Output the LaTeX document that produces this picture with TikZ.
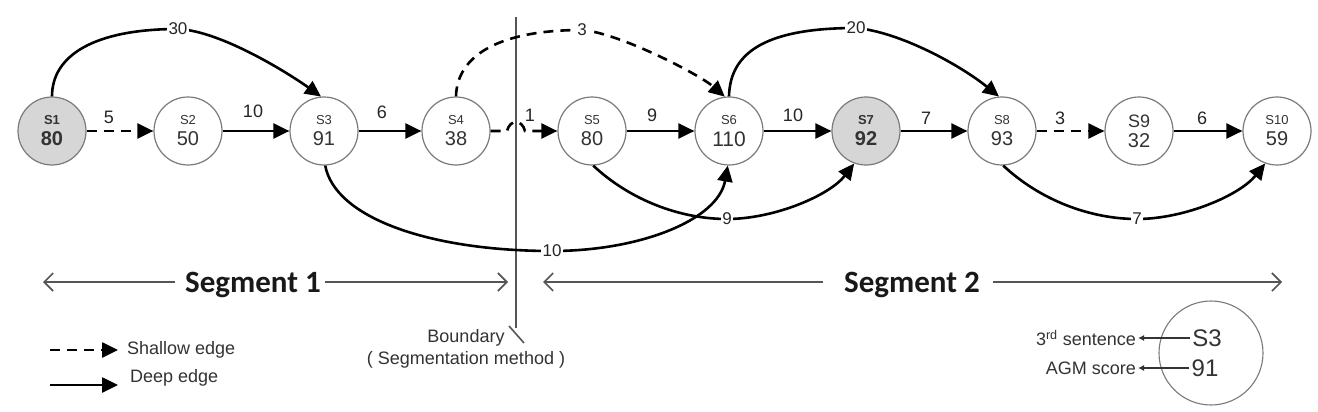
\documentclass[tikz,border=0pt]{standalone}
\usepackage{fontspec}
\setmainfont{Liberation Sans}
\newfontfamily\segfont{Carlito}
\usetikzlibrary{arrows.meta}
\definecolor{nodegray}{HTML}{D6D6D6}
\definecolor{rimgray}{HTML}{7A7A7A}
\definecolor{txtgray}{HTML}{333333}
\definecolor{linegray}{HTML}{555555}
\newcommand\fs[1]{\fontsize{#1}{#1}\selectfont}
\tikzset{
  snode/.style={circle, draw=rimgray, line width=1.2pt, minimum size=68pt, inner sep=0pt, align=center, text=txtgray},
  hinode/.style={snode, fill=nodegray},
  deepedge/.style={line width=2.6pt, -{Triangle[length=16pt,width=15pt]}},
  shallowedge/.style={deepedge, dash pattern=on 10pt off 7pt},
  elabel/.style={font=\fs{18}, text=black!85, inner sep=0pt},
  clabel/.style={font=\fs{17}, text=black!85, fill=white, inner sep=1.5pt},
  segline/.style={draw=linegray, line width=1.6pt},
  segtip/.style={-{Straight Barb[length=9pt,width=18pt]}},
  segtext/.style={font=\segfont\bfseries\fs{31}, text=black!90, inner sep=0pt, anchor=base},
  bline/.style={draw=linegray, line width=1.6pt},
  plain/.style={font=\fs{18}, text=txtgray, inner sep=0pt},
  smallarrow/.style={draw=txtgray, line width=1.3pt, -{Latex[length=6pt,width=6pt]}}
}
\begin{document}
\begin{tikzpicture}[x=1pt,y=-1pt]
\useasboundingbox[fill=white] (0,0) rectangle (1318,412);
% boundary
\coordinate (btop) at (516,17);
\coordinate (bbot) at (516,328);
\draw[bline] (btop) -- (bbot);
\coordinate (slA) at (509,326);
\coordinate (slB) at (524,343);
\draw[bline] (slA) -- (slB);
% sentence nodes
\node[hinode] (s1) at (52,131) {\fs{13}\bfseries S1\\[6pt]\fs{20}\bfseries 80};
\node[snode] (s2) at (188,131) {\fs{13}S2\\[6pt]\fs{20}50};
\node[snode] (s3) at (324,131) {\fs{13}S3\\[6pt]\fs{20}91};
\node[snode] (s4) at (456,131) {\fs{13}S4\\[6pt]\fs{20}38};
\node[snode] (s5) at (592,131) {\fs{13}S5\\[6pt]\fs{20}80};
\node[snode] (s6) at (729,131) {\fs{13}S6\\[6pt]\fs{21}110};
\node[hinode] (s7) at (866,131) {\fs{13}\bfseries S7\\[6pt]\fs{20}\bfseries 92};
\node[snode] (s8) at (1002,131) {\fs{13}S8\\[6pt]\fs{20}93};
\node[snode] (s9) at (1139,131) {\fs{18}S9\\[5pt]\fs{20}32};
\node[snode] (s10) at (1277,131) {\fs{13}S10\\[6pt]\fs{20}59};
% straight edges
\draw[shallowedge] (s1) -- (s2);
\draw[deepedge] (s2) -- (s3);
\draw[deepedge] (s3) -- (s4);
\draw[shallowedge] (s4) -- (507,131) .. controls (510,119) and (522,119) .. (525,131) -- (s5);
\draw[deepedge] (s5) -- (s6);
\draw[deepedge] (s6) -- (s7);
\draw[deepedge] (s7) -- (s8);
\draw[shallowedge] (s8) -- (s9);
\draw[deepedge] (s9) -- (s10);
\node[elabel] (e12) at (109,117) {5};
\node[elabel] (e23) at (253,111) {10};
\node[elabel] (e34) at (382,112) {6};
\node[elabel] (e45) at (530,115) {1};
\node[elabel] (e56) at (652,115) {9};
\node[elabel] (e67) at (793,115) {10};
\node[elabel] (e78) at (926,118) {7};
\node[elabel] (e89) at (1060,118) {3};
\node[elabel] (e910) at (1202,118) {6};
% upper curves
\draw[deepedge] (s1.north) .. controls (52,55) and (95,29) .. (178,29) node[clabel] (c30) {30}
  .. controls (222,31) and (291,75) .. (s3.95);
\draw[shallowedge] (s4.north) .. controls (457,55) and (500,30) .. (582,30) node[clabel] (c3) {3}
  .. controls (620,33) and (700,75) .. (s6.97);
\draw[deepedge] (s6.north) .. controls (730,50) and (770,28) .. (856,28) node[clabel] (c20) {20}
  .. controls (900,32) and (960,65) .. (s8.95);
% lower curves
\draw[deepedge] (s3.272) .. controls (335,218) and (430,251) .. (552,251) node[clabel] (c10) {10}
  .. controls (640,251) and (718,220) .. (s6.268);
\draw[deepedge] (s5.272) .. controls (630,200) and (680,219) .. (727,219) node[clabel] (c9) {9}
  .. controls (775,219) and (830,195) .. (s7.250);
\draw[deepedge] (s8.272) .. controls (1040,200) and (1090,219) .. (1137,219) node[clabel] (c7) {7}
  .. controls (1185,219) and (1240,195) .. (s10.250);
% segments
\node[segtext] (seg1) at (253,292) {Segment 1};
\node[segtext] (seg2) at (912,292) {Segment 2};
\coordinate (g1a) at (43,282);
\coordinate (g1b) at (175,282);
\coordinate (g1c) at (325,282);
\coordinate (g1d) at (508,282);
\coordinate (g2a) at (543,282);
\coordinate (g2b) at (823,282);
\coordinate (g2c) at (993,282);
\coordinate (g2d) at (1282,282);
\draw[segline, segtip] (g1b) -- (g1a);
\draw[segline, segtip] (g1c) -- (g1d);
\draw[segline, segtip] (g2b) -- (g2a);
\draw[segline, segtip] (g2c) -- (g2d);
% boundary text
\node[plain] (bnd) at (466,338) {Boundary};
\node[plain] (bndm) at (466,360) {( Segmentation method )};
% legend edges
\coordinate (lsa) at (50,350);
\coordinate (lsb) at (118,350);
\coordinate (lda) at (50,385);
\coordinate (ldb) at (118,385);
\draw[shallowedge] (lsa) -- (lsb);
\draw[deepedge] (lda) -- (ldb);
\node[plain, anchor=west] (lgshallow) at (127,350) {Shallow edge};
\node[plain, anchor=west] (lgdeep) at (130,378) {Deep edge};
% legend circle
\node[circle, draw=rimgray, line width=1.1pt, minimum size=104pt, inner sep=0pt] (lgc) at (1211,353) {};
\node[font=\fs{24}, text=txtgray, inner sep=2pt] (lgs3) at (1207,338) {S3};
\node[font=\fs{24}, text=txtgray, inner sep=2pt] (lg91) at (1205,368) {91};
\node[plain, anchor=east, inner sep=2pt] (lgsent) at (1138,338) {3\textsuperscript{rd} sentence};
\node[plain, anchor=east, inner sep=2pt] (lgagm) at (1138,368) {AGM score};
\draw[smallarrow] (lgs3.west) -- (lgsent.east);
\draw[smallarrow] (lg91.west) -- (lgagm.east);
\end{tikzpicture}
\end{document}
